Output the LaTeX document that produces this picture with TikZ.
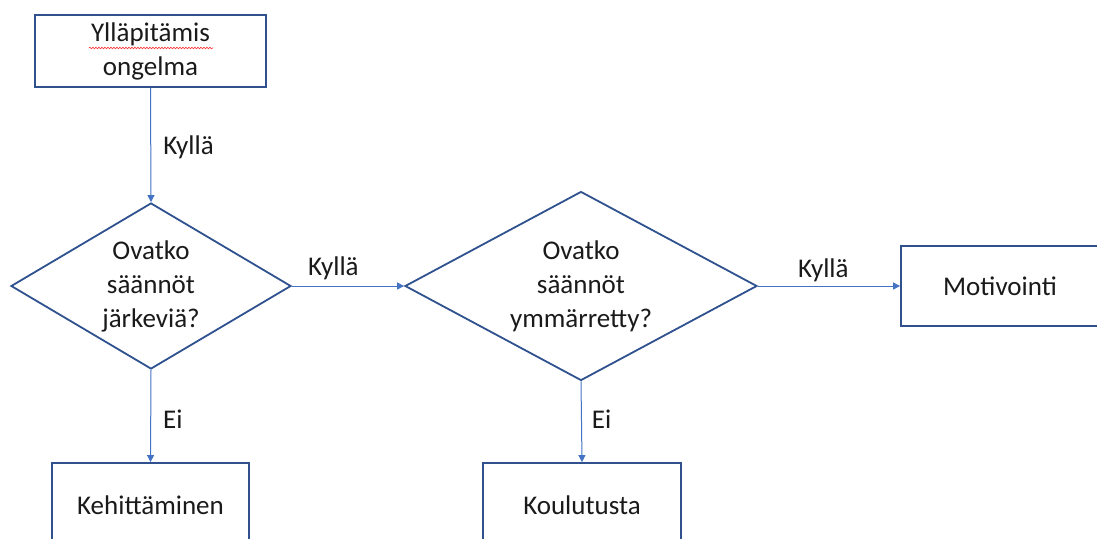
\documentclass[tikz,border=0pt]{standalone}
\usepackage{fontspec}
\setmainfont{Carlito}
\usetikzlibrary{shapes.geometric,arrows.meta,decorations.pathmorphing}
\definecolor{boxblue}{HTML}{2F528F}
\definecolor{linkblue}{HTML}{4472C4}
\definecolor{inkgray}{HTML}{1A1A1A}
\tikzset{
  txt/.style={font=\fontsize{27}{34}\selectfont, text=inkgray, align=center},
  stepbox/.style={txt, draw=boxblue, line width=1.8pt, fill=white, inner sep=0pt},
  decision/.style={txt, diamond, draw=boxblue, line width=1.8pt, fill=white, inner sep=0pt},
  conn/.style={draw=linkblue, line width=1pt, -{Triangle[length=7pt,width=7pt]}},
  lbl/.style={txt, inner sep=0pt}
}
\begin{document}
\begin{tikzpicture}[x=1pt, y=-1pt]
  \clip (0,0) rectangle (1097,538);
  \fill[white] (0,0) rectangle (1097,538);

  % process boxes
  \node[stepbox, minimum width=231pt, minimum height=72pt] (start) at (150.5,51) {Ylläpitämis\\ongelma};
  \node[stepbox, minimum width=197pt, minimum height=84pt] (dev) at (150.5,505) {Kehittäminen};
  \node[stepbox, minimum width=198pt, minimum height=84pt] (train) at (582,505) {Koulutusta};
  \node[stepbox, minimum width=198pt, minimum height=80pt] (motiv) at (1000,286) {Motivointi};

  % decisions
  \node[decision, aspect=1.69, minimum width=280pt, minimum height=166pt] (d1) at (151,286) {Ovatko\\säännöt\\järkeviä?};
  \node[decision, aspect=1.85, minimum width=352pt, minimum height=189pt] (d2) at (581,286) {Ovatko\\säännöt\\ymmärretty?};

  % spell-check underline
  \coordinate (wl) at (89,48);
  \coordinate (wr) at (213,48);
  \draw[red!80!white, line width=0.6pt, decorate, decoration={snake, amplitude=0.8pt, segment length=3pt}] (wl) -- (wr);

  % connectors
  \draw[conn] (start.south) -- node[lbl, pos=0.52, right=12pt] {Kyllä} (d1.north);
  \draw[conn] (d1.east) -- node[lbl, pos=0.37, above=6pt] {Kyllä} (d2.west);
  \draw[conn] (d2.east) -- node[lbl, pos=0.46, above=4pt] {Kyllä} (motiv.west);
  \draw[conn] (d1.south) -- node[lbl, pos=0.53, right=12pt] {Ei} (dev.north);
  \draw[conn] (d2.south) -- node[lbl, pos=0.47, right=10pt] {Ei} (train.north);
\end{tikzpicture}
\end{document}
